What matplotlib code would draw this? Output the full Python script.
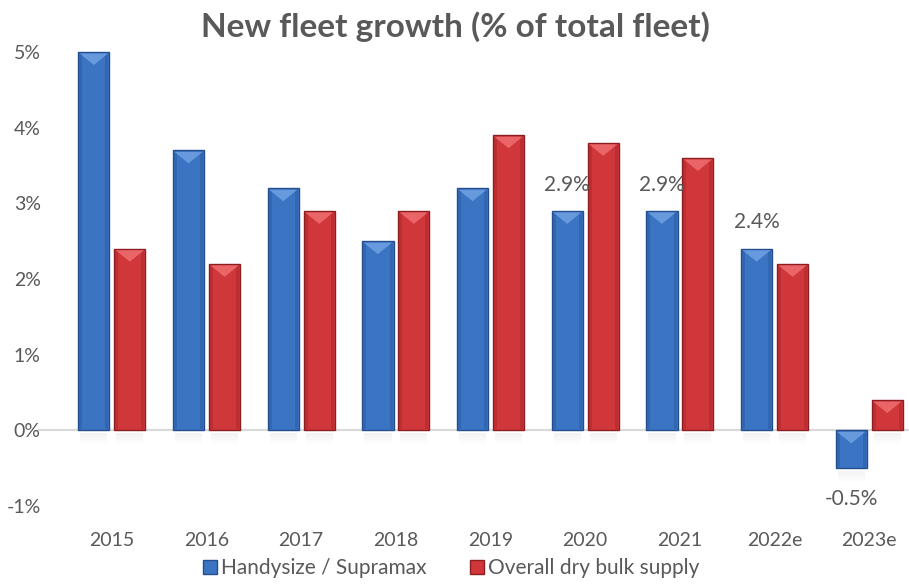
import numpy as np
import matplotlib
matplotlib.use("Agg")
import matplotlib.pyplot as plt
from matplotlib.patches import Polygon, Rectangle
from matplotlib.lines import Line2D

categories = ["2015", "2016", "2017", "2018", "2019", "2020", "2021", "2022e", "2023e"]
handysize = [5.0, 3.7, 3.2, 2.5, 3.2, 2.9, 2.9, 2.4, -0.5]
overall = [2.4, 2.2, 2.9, 2.9, 3.9, 3.8, 3.6, 2.2, 0.4]
series_names = ["Handysize / Supramax", "Overall dry bulk supply"]
labelled = {5: "2.9%", 6: "2.9%", 7: "2.4%", 8: "-0.5%"}

plt.rcParams['font.family'] = ['Lato', 'DejaVu Sans']
TXT = "#595959"

W, H = 909, 587
fig = plt.figure(figsize=(W / 100, H / 100), dpi=100)
ax = fig.add_axes([38 / W, 1 - 506 / H, (909 - 38) / W, (506 - 52) / H])

x = np.arange(len(categories))
bw = 0.33
off = 0.19
blue_face, blue_edge, blue_hi, blue_side = "#3b74c3", "#234f8e", "#6fa0e2", "#2c5ea6"
red_face, red_edge, red_hi, red_side = "#d0373a", "#8c1d21", "#ef6e70", "#b0282c"

b1 = ax.bar(x - off, handysize, bw, color=blue_face, edgecolor=blue_edge, linewidth=1.0, zorder=3, clip_on=False)
b2 = ax.bar(x + off, overall, bw, color=red_face, edgecolor=red_edge, linewidth=1.0, zorder=3, clip_on=False)

ax.axhline(0, color="#d9d9d9", linewidth=1.5, zorder=2)
ax.set_ylim(-1, 5)
ax.set_xlim(-0.78, 8.42)
ax.set_yticks([-1, 0, 1, 2, 3, 4, 5])
ax.set_yticklabels(["-1%", "0%", "1%", "2%", "3%", "4%", "5%"])
ax.set_xticks(x)
ax.set_xticklabels(categories)
ax.tick_params(axis='both', length=0, labelsize=14, colors=TXT)
ax.tick_params(axis='y', pad=-2)
ax.tick_params(axis='x', pad=19)
for s in ax.spines.values():
    s.set_visible(False)

fig.canvas.draw()

def bevel(bars, hi, side):
    for r in bars:
        x0 = r.get_x(); w = r.get_width(); h = r.get_height()
        top = max(h, 0.0); bot = min(h, 0.0)
        (px0, ptop), = ax.transData.transform([[x0, top]])
        (px1, pbot), = ax.transData.transform([[x0 + w, bot]])
        # darker side strips
        for sx in (px0 + 1, px1 - 4):
            fig.patches.append(Rectangle((sx, pbot + 1), 3, ptop - pbot - 2, transform=None,
                                         facecolor=side, edgecolor='none', alpha=0.6, zorder=4))
        # light top chevron
        pts = [[px0 + 1.5, ptop - 1.5], [px1 - 1.5, ptop - 1.5], [(px0 + px1) / 2, ptop - 13]]
        fig.patches.append(Polygon(pts, closed=True, facecolor=hi, edgecolor='none',
                                   alpha=0.85, transform=None, zorder=5))
        # soft shadow below the bar base
        (_, pz), = ax.transData.transform([[x0, 0]])
        ys = min(pz, pbot) - 3
        for k in range(8):
            a = 0.09 * (1 - k / 8)
            fig.patches.append(Rectangle((px0 + 2, ys - k * 1.3 - 1.3), px1 - px0 - 4, 1.3, transform=None,
                                         facecolor="#808080", alpha=a, edgecolor='none', zorder=1))

bevel(b1, blue_hi, blue_side)
bevel(b2, red_hi, red_side)

for i, t in labelled.items():
    v = handysize[i]
    dy = 19 if v >= 0 else -22
    ax.annotate(t, (x[i] - off, v), xytext=(0, dy), textcoords='offset points',
                ha='center', va='center', fontsize=15, color=TXT)

fig.text(455 / W, 1 - 27 / H, "New fleet growth (% of total fleet)", ha='center', va='center',
         fontsize=24, fontweight='bold', color=TXT)

handles = [Line2D([], [], marker='s', linestyle='none', markersize=10, markerfacecolor=blue_face,
                  markeredgecolor=blue_edge),
           Line2D([], [], marker='s', linestyle='none', markersize=10, markerfacecolor=red_face,
                  markeredgecolor=red_edge)]
leg = fig.legend(handles, series_names, loc='center', bbox_to_anchor=(450 / W, 1 - 568 / H), ncol=2,
                 frameon=False, fontsize=15, handletextpad=0.05, columnspacing=2.0, handlelength=0.9)
for t in leg.get_texts():
    t.set_color(TXT)

fig.savefig("out.png", dpi=100)
